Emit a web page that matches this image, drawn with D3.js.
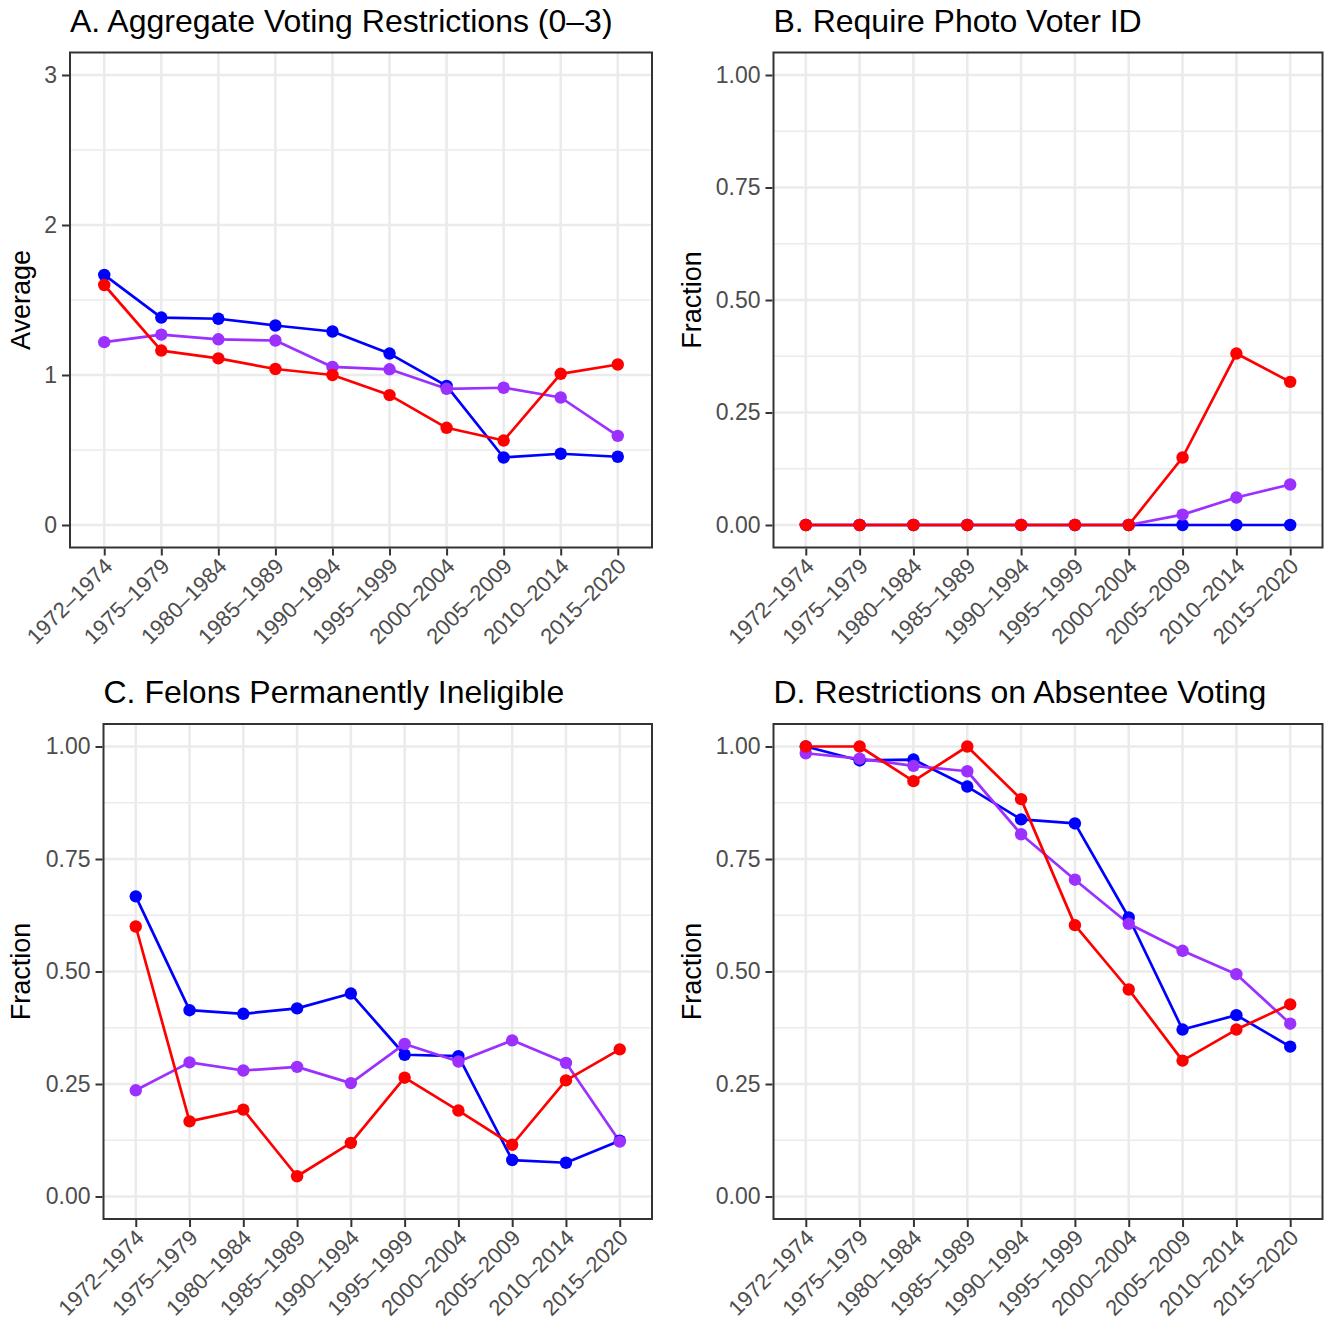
<!DOCTYPE html>
<html>
<head>
<meta charset="utf-8">
<script src="https://cdn.jsdelivr.net/npm/d3@7"></script>
<style>
  html, body { margin: 0; padding: 0; background: #ffffff; }
  svg { display: block; font-family: "Liberation Sans", Arial, sans-serif; }
</style>
</head>
<body>
<svg id="chart" width="1333" height="1322"></svg>
<script>
// ---------------- data ----------------
const categories = ["1972–1974","1975–1979","1980–1984","1985–1989","1990–1994",
                    "1995–1999","2000–2004","2005–2009","2010–2014","2015–2020"];

const seriesNames = ["blue", "purple", "red"];
const seriesColors = { blue: "#0000FF", purple: "#9B30FF", red: "#FF0000" };

// A. Aggregate Voting Restrictions (0–3)
const aggBlue   = [1.667, 1.383, 1.375, 1.330, 1.290, 1.143, 0.927, 0.450, 0.475, 0.455];
const aggPurple = [1.219, 1.269, 1.238, 1.230, 1.054, 1.038, 0.908, 0.915, 0.850, 0.594];
const aggRed    = [1.600, 1.163, 1.111, 1.040, 1.000, 0.866, 0.648, 0.563, 1.008, 1.070];

// B. Require Photo Voter ID
const idBlue   = [0, 0, 0, 0, 0, 0, 0, 0, 0, 0];
const idPurple = [0, 0, 0, 0, 0, 0, 0, 0.023, 0.061, 0.090];
const idRed    = [0, 0, 0, 0, 0, 0, 0, 0.150, 0.381, 0.318];

// C. Felons Permanently Ineligible
const felBlue   = [0.667, 0.414, 0.406, 0.418, 0.451, 0.315, 0.312, 0.081, 0.075, 0.124];
const felPurple = [0.236, 0.298, 0.280, 0.288, 0.252, 0.339, 0.300, 0.347, 0.297, 0.122];
const felRed    = [0.600, 0.167, 0.193, 0.045, 0.119, 0.264, 0.191, 0.115, 0.258, 0.327];

// D. Restrictions on Absentee Voting
const absBlue   = [1.000, 0.969, 0.971, 0.911, 0.838, 0.829, 0.620, 0.371, 0.403, 0.333];
const absPurple = [0.985, 0.973, 0.957, 0.945, 0.805, 0.704, 0.606, 0.546, 0.494, 0.384];
const absRed    = [1.000, 1.000, 0.923, 1.000, 0.883, 0.603, 0.460, 0.302, 0.371, 0.427];

const avgTicks  = [0, 1, 2, 3];
const fracTicks = [0, 0.25, 0.5, 0.75, 1];

// ---------------- panels ----------------
const panels = [
  { title: "A. Aggregate Voting Restrictions (0–3)", ytitle: "Average",
    series: { blue: aggBlue, purple: aggPurple, red: aggRed },
    ticks: avgTicks, domain: [0, 3], fmt: d3.format("d"),
    box: { left: 70, top: 52.5, right: 652, bottom: 547.5 }, ytitleX: 30 },
  { title: "B. Require Photo Voter ID", ytitle: "Fraction",
    series: { blue: idBlue, purple: idPurple, red: idRed },
    ticks: fracTicks, domain: [0, 1], fmt: d3.format(".2f"),
    box: { left: 773.5, top: 52.5, right: 1322.5, bottom: 547.5 }, ytitleX: 701 },
  { title: "C. Felons Permanently Ineligible", ytitle: "Fraction",
    series: { blue: felBlue, purple: felPurple, red: felRed },
    ticks: fracTicks, domain: [0, 1], fmt: d3.format(".2f"),
    box: { left: 103.5, top: 724, right: 652, bottom: 1219 }, ytitleX: 30 },
  { title: "D. Restrictions on Absentee Voting", ytitle: "Fraction",
    series: { blue: absBlue, purple: absPurple, red: absRed },
    ticks: fracTicks, domain: [0, 1], fmt: d3.format(".2f"),
    box: { left: 773.5, top: 724, right: 1322.5, bottom: 1219 }, ytitleX: 701 }
];

const svg = d3.select("#chart");
const gridCol = "#EBEBEB", axisCol = "#333333", tickTextCol = "#4D4D4D";
const tickLen = 7;
const xlabX = -2, xlabY = tickLen + 1;

panels.forEach(p => {
  const b = p.box;
  const span = p.domain[1] - p.domain[0];
  const pad = span * 0.05;
  const x = d3.scalePoint().domain(categories).range([b.left, b.right]).padding(0.6);
  const y = d3.scaleLinear().domain([p.domain[0] - pad, p.domain[1] + pad]).range([b.bottom, b.top]);

  const g = svg.append("g");

  // minor y grid (midpoints between major ticks)
  const minor = d3.pairs(p.ticks).map(([a, c]) => (a + c) / 2);
  g.append("g").selectAll("line").data(minor).join("line")
    .attr("x1", b.left).attr("x2", b.right)
    .attr("y1", d => y(d)).attr("y2", d => y(d))
    .attr("stroke", gridCol).attr("stroke-width", 1.3);

  // major y grid
  g.append("g").selectAll("line").data(p.ticks).join("line")
    .attr("x1", b.left).attr("x2", b.right)
    .attr("y1", d => y(d)).attr("y2", d => y(d))
    .attr("stroke", gridCol).attr("stroke-width", 2.6);

  // major x grid
  g.append("g").selectAll("line").data(categories).join("line")
    .attr("x1", d => x(d)).attr("x2", d => x(d))
    .attr("y1", b.top).attr("y2", b.bottom)
    .attr("stroke", gridCol).attr("stroke-width", 2.6);

  // lines
  const line = d3.line().x((d, i) => x(categories[i])).y(d => y(d));
  seriesNames.forEach(s => {
    g.append("path").datum(p.series[s])
      .attr("d", line).attr("fill", "none")
      .attr("stroke", seriesColors[s]).attr("stroke-width", 2.7)
      .attr("stroke-linejoin", "round").attr("stroke-linecap", "butt");
  });
  // points
  seriesNames.forEach(s => {
    g.append("g").selectAll("circle").data(p.series[s]).join("circle")
      .attr("cx", (d, i) => x(categories[i])).attr("cy", d => y(d))
      .attr("r", 6.2).attr("fill", seriesColors[s]);
  });

  // panel border
  g.append("rect")
    .attr("x", b.left).attr("y", b.top)
    .attr("width", b.right - b.left).attr("height", b.bottom - b.top)
    .attr("fill", "none").attr("stroke", axisCol).attr("stroke-width", 2);

  // y axis
  const yAxis = d3.axisLeft(y).tickValues(p.ticks).tickFormat(p.fmt)
    .tickSize(tickLen).tickPadding(5);
  const ya = g.append("g").attr("transform", `translate(${b.left - 1},0)`).call(yAxis);
  ya.select(".domain").remove();
  ya.selectAll(".tick line").attr("stroke", axisCol).attr("stroke-width", 2);
  ya.selectAll(".tick text").attr("fill", tickTextCol)
    .style("font-size", "23px").style("font-family", "'Liberation Sans', Arial, sans-serif");

  // x axis
  const xAxis = d3.axisBottom(x).tickSize(tickLen).tickPadding(4);
  const xa = g.append("g").attr("transform", `translate(0,${b.bottom + 1})`).call(xAxis);
  xa.select(".domain").remove();
  xa.selectAll(".tick line").attr("stroke", axisCol).attr("stroke-width", 2);
  xa.selectAll(".tick text").attr("fill", tickTextCol)
    .style("font-size", "22px").style("font-family", "'Liberation Sans', Arial, sans-serif")
    .attr("text-anchor", "end")
    .attr("x", xlabX).attr("y", xlabY).attr("dy", "0.72em")
    .attr("transform", `rotate(-45 ${xlabX} ${xlabY})`);

  // title
  g.append("text").attr("x", b.left).attr("y", b.top - 21)
    .attr("fill", "#000").style("font-size", "32px").text(p.title);

  // y axis title
  const cy = (b.top + b.bottom) / 2;
  g.append("text")
    .attr("transform", `translate(${p.ytitleX},${cy}) rotate(-90)`)
    .attr("text-anchor", "middle").attr("fill", "#000")
    .style("font-size", "27px").text(p.ytitle);
});
</script>
</body>
</html>
